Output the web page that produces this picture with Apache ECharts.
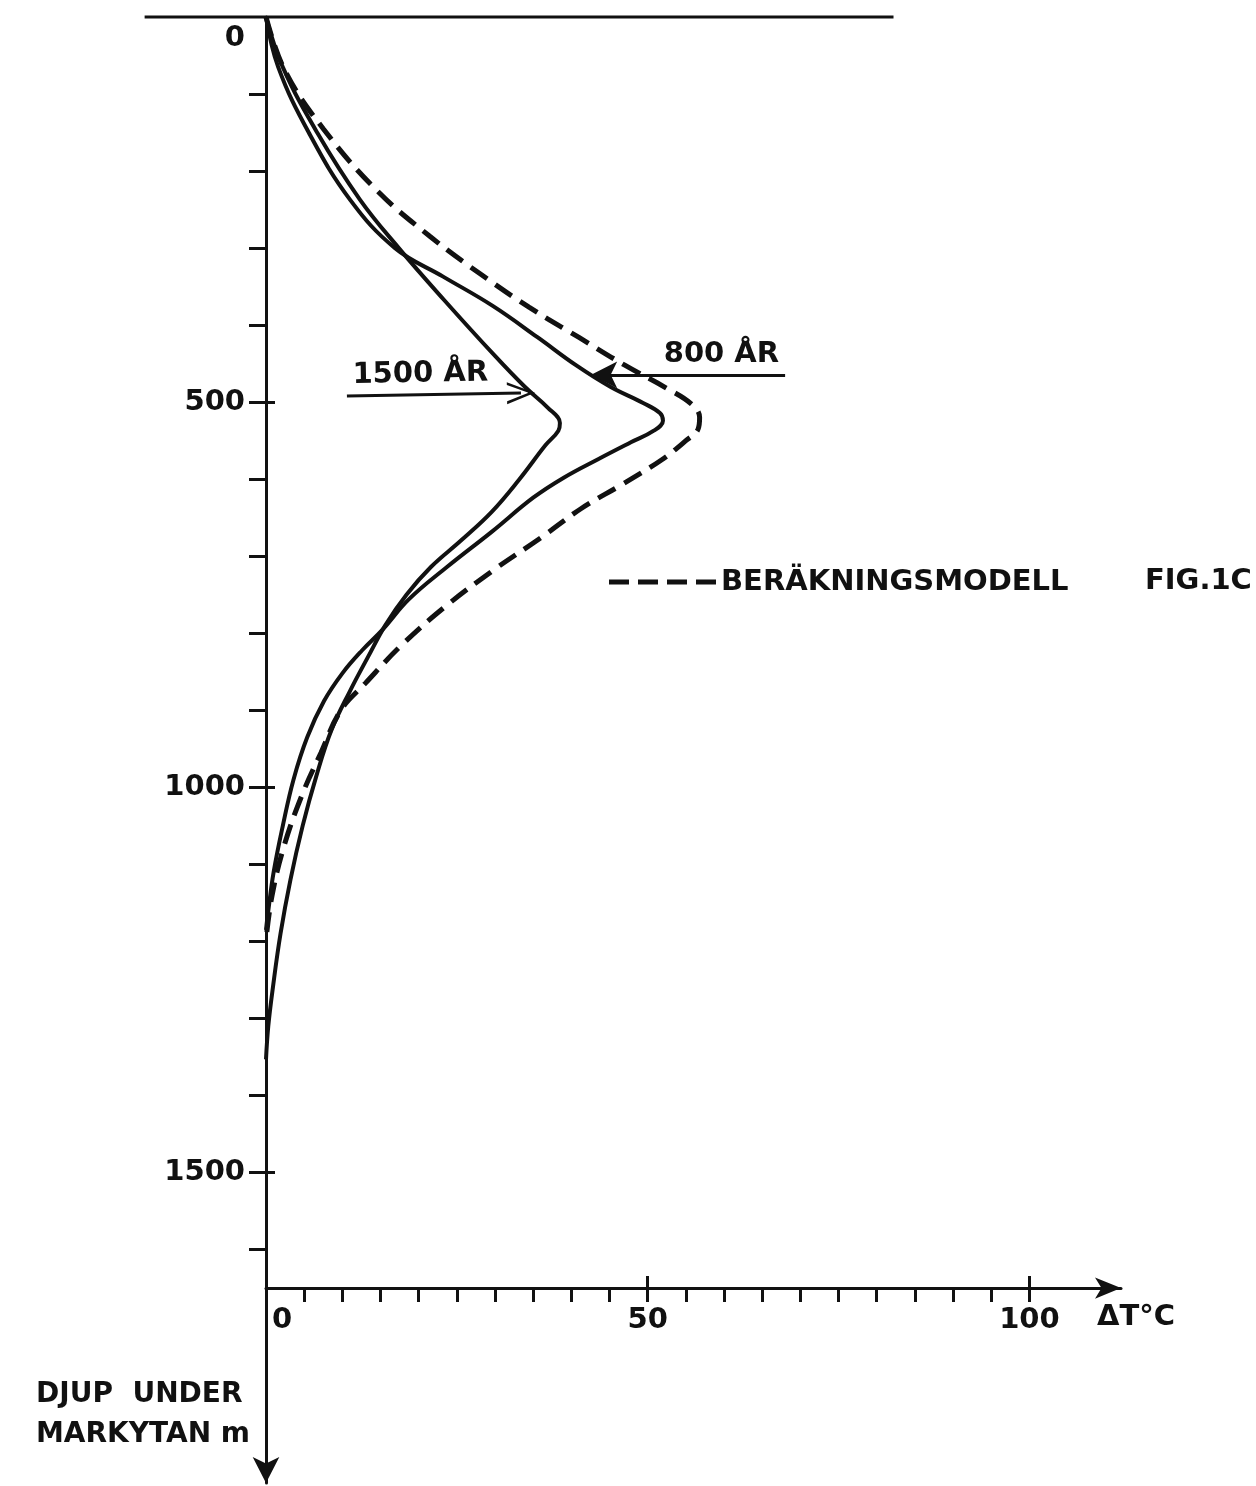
<!DOCTYPE html>
<html>
<head>
<meta charset="utf-8">
<title>FIG.1C</title>
<script src="https://cdn.jsdelivr.net/npm/echarts@6/dist/echarts.min.js"></script>
<style>
  html, body { margin: 0; padding: 0; background: #ffffff; }
  #chart { width: 1256px; height: 1486px; }
</style>
</head>
<body>
<div id="chart"></div>
<script>
// Temperature rise ΔT (°C) against depth below ground surface (m).
// Each point is [ΔT, depth].
const modelCurve = [
  [0, 0], [2.5, 70], [7.5, 145], [14.5, 225], [21.5, 285], [28.0, 333],
  [34.5, 377], [41.0, 416], [47.0, 452], [52.5, 482], [55.8, 503], [56.8, 520],
  [56.6, 535], [55.0, 550], [51.8, 575], [46.6, 607], [41.3, 638], [36.0, 676],
  [29.8, 718], [23.4, 766], [17.8, 815], [13.0, 865], [9.8, 900], [7.2, 955],
  [4.8, 1008], [2.4, 1075], [0.8, 1140], [0, 1198]
];
const curve800 = [
  [0, 0], [1.6, 65], [5.6, 150], [11.0, 237], [16.9, 300], [23.2, 337],
  [29.7, 375], [35.6, 416], [40.6, 452], [45.1, 480], [49.4, 501], [51.6, 514],
  [52.0, 524], [50.8, 537], [47.8, 552], [43.5, 574], [39.0, 598], [35.0, 624],
  [29.6, 668], [23.7, 714], [18.7, 756], [15.3, 795], [12.6, 822], [10.0, 852],
  [7.6, 888], [5.4, 935], [3.6, 990], [2.2, 1050], [1.0, 1110], [0.3, 1160],
  [0, 1185]
];
const curve1500 = [
  [0, 0], [2.2, 65], [6.7, 150], [12.3, 237], [17.4, 300], [23.3, 367],
  [30.0, 440], [33.9, 480], [36.9, 507], [38.5, 527], [38.3, 537], [36.6, 556],
  [33.2, 600], [29.6, 642], [25.5, 680], [21.6, 714], [18.4, 750], [15.6, 790],
  [13.4, 830], [11.0, 875], [8.6, 925], [6.6, 985], [4.8, 1050], [3.2, 1120],
  [1.9, 1190], [0.9, 1260], [0.3, 1310], [0, 1353]
];
// Ground surface line at depth 0, reaching left of the depth axis
const surfaceLine = [[-15.9, 0], [82.2, 0]];

// Annotation arrows, [ΔT, depth] from tail to head
const arrow800 = [[42.6, 464.5], [68.0, 464.5]];
const arrow1500 = [[10.6, 492], [33.4, 488]];

// Axis ticks and labels
const depthTickValues = [100, 200, 300, 400, 500, 600, 700, 800, 900, 1000, 1100, 1200, 1300, 1400, 1500, 1600];
const depthMajorValues = [500, 1000, 1500];
const depthLabelValues = [0, 500, 1000, 1500];
const tempTickValues = [5, 10, 15, 20, 25, 30, 35, 40, 45, 50, 55, 60, 65, 70, 75, 80, 85, 90, 95, 100];
const tempMajorValues = [50, 100];
const tempLabelValues = [0, 50, 100];

const INK = '#111111';
const FONT = 'DejaVu Sans';
const textBase = { fontFamily: FONT, fontWeight: 'bold', fontSize: 29, color: INK };

const depthMax = 1903;      // depth axis runs past the ΔT axis down to its arrow
const tempMax = 112;        // ΔT axis runs past 100 to its arrow
const xAxisDepth = 1650;    // depth at which the ΔT axis crosses
const gridBox = { left: 266, top: 17, width: 855, height: 1466 };
const xAxisShift = -(depthMax - xAxisDepth) / depthMax * gridBox.height;

const openHead = 'path://M10,0 L20,26 L17.4,26 L10,6 L2.6,26 L0,26 Z';
const dashIcon = 'path://M0,0h20v5h-20z M29,0h20v5h-20z M58,0h20v5h-20z M87,0h20v5h-20z';

const chart = echarts.init(document.getElementById('chart'), null, { renderer: 'canvas' });

chart.setOption({
  backgroundColor: '#ffffff',
  animation: false,
  title: {
    text: 'FIG.1C',
    left: 1140,
    top: 562,
    textStyle: Object.assign({}, textBase)
  },
  legend: {
    data: [{ name: 'BERÄKNINGSMODELL', icon: dashIcon }],
    left: 604,
    top: 560,
    itemWidth: 107,
    itemHeight: 5,
    itemGap: 14,
    selectedMode: false,
    textStyle: Object.assign({ lineHeight: 34 }, textBase)
  },
  grid: Object.assign({ containLabel: false, outerBoundsMode: 'none' }, gridBox),
  xAxis: [
    {
      type: 'value', min: 0, max: tempMax, position: 'bottom', offset: xAxisShift,
      splitLine: { show: false },
      axisLine: {
        show: true, onZero: false, symbol: ['none', 'arrow'], symbolSize: [16, 26],
        lineStyle: { color: INK, width: 3 }
      },
      axisTick: { show: true, customValues: tempTickValues, length: 14, lineStyle: { color: INK, width: 3 } },
      axisLabel: Object.assign({
        customValues: tempLabelValues, margin: 18,
        formatter: v => (v === 0 ? '{z|0}' : String(v)),
        rich: { z: Object.assign({ padding: [0, 0, 0, 32] }, textBase) }
      }, textBase)
    },
    {
      type: 'value', min: 0, max: tempMax, position: 'bottom', offset: xAxisShift,
      splitLine: { show: false },
      axisLine: { show: false, onZero: false },
      axisTick: { show: true, inside: true, customValues: tempMajorValues, length: 12, lineStyle: { color: INK, width: 3 } },
      axisLabel: { show: false }
    }
  ],
  yAxis: [
    {
      type: 'value', inverse: true, min: 0, max: depthMax, position: 'left',
      splitLine: { show: false },
      axisLine: {
        show: true, onZero: false, symbol: ['arrow', 'none'], symbolSize: [20, 26],
        lineStyle: { color: INK, width: 3 }
      },
      axisTick: { show: true, customValues: depthTickValues, length: 17, lineStyle: { color: INK, width: 3 } },
      axisLabel: Object.assign({
        customValues: depthLabelValues, margin: 21,
        formatter: v => (v === 0 ? '{z|0}' : String(v)),
        rich: { z: Object.assign({ padding: [42, 0, 0, 0] }, textBase) }
      }, textBase)
    },
    {
      type: 'value', inverse: true, min: 0, max: depthMax, position: 'left',
      splitLine: { show: false },
      axisLine: { show: false, onZero: false },
      axisTick: { show: true, inside: true, customValues: depthMajorValues, length: 9, lineStyle: { color: INK, width: 3 } },
      axisLabel: { show: false }
    }
  ],
  series: [
    {
      name: 'BERÄKNINGSMODELL', type: 'line', data: modelCurve,
      smooth: 0.4, symbol: 'none', z: 3,
      itemStyle: { color: INK },
      lineStyle: { color: INK, width: 5, type: [20, 10] }
    },
    {
      name: '800 ÅR', type: 'line', data: curve800,
      smooth: 0.4, symbol: 'none', z: 3,
      itemStyle: { color: INK },
      lineStyle: { color: INK, width: 4 },
      markLine: {
        silent: true, animation: false,
        symbol: ['arrow', 'none'], symbolSize: [20, 26],
        lineStyle: { color: INK, width: 3, type: 'solid' },
        label: Object.assign({ show: true, position: 'insideEndTop', distance: 6, formatter: '{b}' }, textBase),
        data: [[{ name: '800 ÅR', coord: arrow800[0] }, { coord: arrow800[1] }]]
      }
    },
    {
      name: '1500 ÅR', type: 'line', data: curve1500,
      smooth: 0.4, symbol: 'none', z: 3,
      itemStyle: { color: INK },
      lineStyle: { color: INK, width: 4 },
      markLine: {
        silent: true, animation: false,
        symbol: ['none', openHead], symbolSize: [22, 28],
        lineStyle: { color: INK, width: 3, type: 'solid' },
        label: Object.assign({ show: true, position: 'insideStartTop', distance: 6, formatter: '{b}' }, textBase),
        data: [[{ name: '1500 ÅR', coord: arrow1500[0] }, { coord: arrow1500[1] }]]
      }
    }
  ]
});

// The surface line extends left of ΔT = 0, so it is placed through the
// grid's own data-to-pixel conversion rather than as a clipped series.
const surfaceStart = chart.convertToPixel({ gridIndex: 0 }, surfaceLine[0]);
const surfaceEnd = chart.convertToPixel({ gridIndex: 0 }, surfaceLine[1]);
chart.setOption({
  graphic: [
    {
      type: 'text', left: 36, top: 1375,
      style: {
        text: 'DJUP  UNDER\nMARKYTAN m',
        font: 'bold 28px "DejaVu Sans"', fill: INK, lineHeight: 40
      }
    },
    {
      type: 'text', left: 1097, top: 1303,
      style: { text: 'ΔT°C', font: 'bold 29px "DejaVu Sans"', fill: INK }
    },
    {
      type: 'line', z: 10,
      shape: { x1: surfaceStart[0], y1: surfaceStart[1], x2: surfaceEnd[0], y2: surfaceEnd[1] },
      style: { stroke: INK, lineWidth: 3 }
    }
  ]
});
</script>
</body>
</html>
